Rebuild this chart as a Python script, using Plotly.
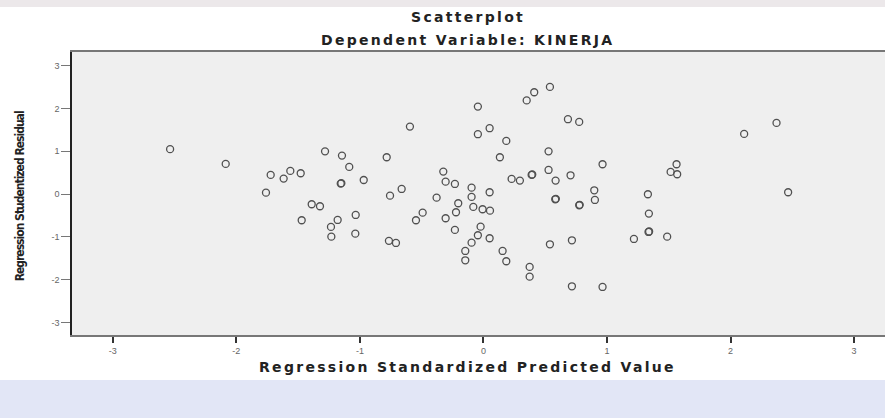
import plotly.graph_objects as go

# Regression Standardized Predicted Value (x) and Studentized Residual (y)
pred = [
    -2.536, -2.086, -1.282, -1.145, -1.086, -0.969, -1.155, -1.722, -1.617, -1.563,
    -1.479, -1.760, -1.390, -1.323, -1.471, -1.180, -1.034, -1.234, -1.231, -1.037,
    -0.783, -0.595, -0.756, -0.662, -0.765, -0.708, -0.492, -0.546, -0.379, -0.325,
    -0.306, -0.231, -0.306, -0.204, -0.222, -0.231, -0.096, -0.096, -0.082, -0.007,
    0.053, 0.050, -0.023, -0.045, 0.050, -0.096, -0.147, -0.147, -0.045, -0.045,
    0.050, 0.185, 0.133, 0.228, 0.295, 0.390, 0.155, 0.185, 0.374, 0.374,
    0.350, 0.411, 0.538, 0.527, 0.527, 0.584, 0.705, 0.581, 0.775, 0.684,
    0.775, 0.897, 0.902, 0.964, 0.538, 0.716, 0.716, 0.964, 1.331, 1.339,
    1.336, 1.218, 1.487, 1.563, 1.515, 1.568, 2.110, 2.372, 2.466,
    -1.150, 0.395, 0.586, 0.779, 1.341,
]
resid = [
    1.050, 0.706, 1.000, 0.900, 0.636, 0.330, 0.246, 0.449, 0.363, 0.542,
    0.488, 0.035, -0.236, -0.283, -0.610, -0.603, -0.486, -0.766, -0.993, -0.923,
    0.862, 1.577, -0.035, 0.121, -1.090, -1.140, -0.432, -0.610, -0.082, 0.526,
    0.292, 0.238, -0.563, -0.213, -0.423, -0.836, 0.152, -0.065, -0.299, -0.353,
    -0.385, 0.044, -0.759, -0.960, -1.030, -1.133, -1.327, -1.545, 2.045, 1.400,
    1.540, 1.243, 0.862, 0.355, 0.316, 0.449, -1.327, -1.568, -1.700, -1.927,
    2.190, 2.380, 2.505, 1.000, 0.565, 0.316, 0.440, -0.120, -0.260, 1.750,
    1.687, 0.090, -0.136, 0.698, -1.171, -1.078, -2.152, -2.168, -0.002, -0.455,
    -0.883, -1.047, -0.993, 0.698, 0.519, 0.465, 1.407, 1.664, 0.044,
    0.256, 0.459, -0.110, -0.250, -0.873,
]

tick_vals = [-3, -2, -1, 0, 1, 2, 3]
tick_text = ["-3", "-2", "-1", "0", "1", "2", "3"]

title_main = "Scatterplot"
title_sub = "Dependent Variable: KINERJA"
x_title = "Regression Standardized Predicted Value"
y_title = "Regression Studentized Residual"

WIDE = '<span style="letter-spacing:2.3px"><b>{}</b></span>'
NARROW = '<span style="letter-spacing:-1px"><b>{}</b></span>'
TITLE_FONT = dict(family="DejaVu Sans, sans-serif", size=14, color="#222222")

fig = go.Figure()
fig.add_trace(go.Scatter(
    x=pred, y=resid, mode="markers",
    marker=dict(symbol="circle-open", size=7, color="#505050",
                line=dict(width=1.3, color="#505050")),
    showlegend=False, hoverinfo="x+y",
))

fig.update_layout(
    width=885, height=418,
    margin=dict(l=72, r=0, t=52, b=83),
    paper_bgcolor="white",
    plot_bgcolor="#efefef",
    font=dict(family="Liberation Sans, Arial, sans-serif", size=9, color="#555555"),
    xaxis=dict(
        range=[-3.33, 3.25], tickvals=tick_vals, ticktext=tick_text,
        showgrid=False, zeroline=False, showline=True, linecolor="#777777",
        linewidth=1.5, mirror=True, ticks="outside", ticklen=6, tickwidth=1.5,
        tickcolor="#333333", tickfont=dict(size=9, color="#666666"),
    ),
    yaxis=dict(
        range=[-3.29, 3.32], tickvals=tick_vals, ticktext=tick_text,
        showgrid=False, zeroline=False, showline=True, linecolor="#222222",
        linewidth=1.5, ticks="outside", ticklen=9, tickwidth=1,
        tickcolor="#777777", tickfont=dict(size=9, color="#666666"),
    ),
    shapes=[
        dict(type="rect", xref="paper", yref="paper", x0=-0.0886, x1=1.0,
             y0=-0.293, y1=-0.159, line=dict(width=0),
             fillcolor="#e2e6f6", layer="below"),
        dict(type="rect", xref="paper", yref="paper", x0=-0.0886, x1=1.0,
             y0=1.159, y1=1.184, line=dict(width=0),
             fillcolor="#ece8ea", layer="below"),
    ],
    annotations=[
        dict(text=WIDE.format(title_main), xref="paper", yref="paper",
             x=0.487, y=1.0, yshift=35, showarrow=False,
             xanchor="center", yanchor="middle", font=TITLE_FONT),
        dict(text=WIDE.format(title_sub), xref="paper", yref="paper",
             x=0.487, y=1.0, yshift=12, showarrow=False,
             xanchor="center", yanchor="middle", font=TITLE_FONT),
        dict(text=WIDE.format(x_title), xref="paper", yref="paper",
             x=0.487, y=0.0, yshift=-32, showarrow=False,
             xanchor="center", yanchor="middle", font=TITLE_FONT),
        dict(text=NARROW.format(y_title), xref="paper", yref="paper",
             x=0.0, xshift=-52, y=0.49, textangle=-90, showarrow=False,
             xanchor="center", yanchor="middle",
             font=dict(family="Liberation Sans Narrow, DejaVu Sans Condensed, Liberation Sans, sans-serif",
                       size=12, color="#222222")),
    ],
)

fig.write_html("out.html", config={"displayModeBar": False},
               post_script="document.body.style.margin='0';")
